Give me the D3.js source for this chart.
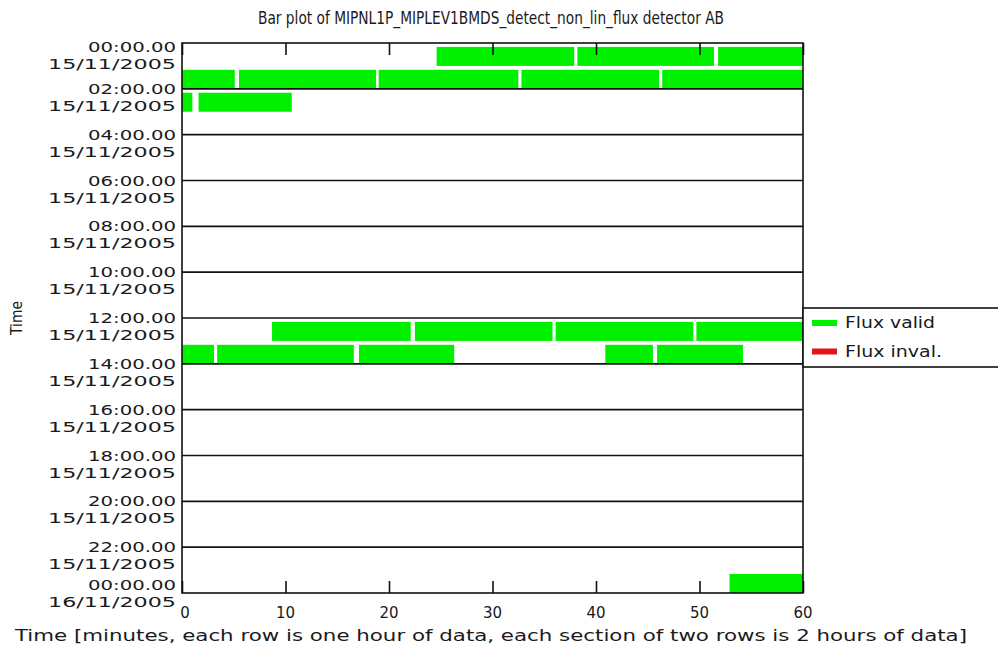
<!DOCTYPE html>
<html>
<head>
<meta charset="utf-8">
<script src="https://cdn.jsdelivr.net/npm/d3@7"></script>
<style>
  html, body { margin: 0; padding: 0; background: #fff; }
  svg { display: block; }
  text { font-family: "DejaVu Sans", "Liberation Sans", sans-serif; fill: #1a1a1a; }
</style>
</head>
<body>
<svg id="chart" width="998" height="659"></svg>
<script>
// ---------------- data ----------------
const titleText = "Bar plot of MIPNL1P_MIPLEV1BMDS_detect_non_lin_flux detector AB";
const xLabelText = "Time [minutes, each row is one hour of data, each section of two rows is 2 hours of data]";
const yLabelText = "Time";

// hour rows (0 = 00:00-01:00 on 15/11/2005 ... 23 = 23:00-24:00)
const segHour  = [0, 0, 0, 1, 1, 1, 1, 1, 2, 2, 12, 12, 12, 12, 13, 13, 13, 13, 13, 23];
const segStart = [24.6, 38.2, 51.8, 0, 5.5, 19.0, 32.8, 46.4, 0, 1.6, 8.7, 22.5, 36.1, 49.7, 0, 3.4, 17.1, 40.9, 45.9, 52.9];
const segEnd   = [37.9, 51.4, 60, 5.1, 18.75, 32.5, 46.1, 60, 1.0, 10.6, 22.1, 35.8, 49.4, 60, 3.1, 16.6, 26.3, 45.5, 54.2, 60];
const segStatus = ["valid","valid","valid","valid","valid","valid","valid","valid","valid","valid",
                   "valid","valid","valid","valid","valid","valid","valid","valid","valid","valid"];

const yTickHours = [0, 2, 4, 6, 8, 10, 12, 14, 16, 18, 20, 22, 24];
const yTickTimes = ["00:00.00","02:00.00","04:00.00","06:00.00","08:00.00","10:00.00","12:00.00",
                    "14:00.00","16:00.00","18:00.00","20:00.00","22:00.00","00:00.00"];
const yTickDates = ["15/11/2005","15/11/2005","15/11/2005","15/11/2005","15/11/2005","15/11/2005","15/11/2005",
                    "15/11/2005","15/11/2005","15/11/2005","15/11/2005","15/11/2005","16/11/2005"];
const xTicks = [0, 10, 20, 30, 40, 50, 60];

const legendLabels = ["Flux valid", "Flux inval."];
const legendKeys = ["valid", "invalid"];
const colors = { valid: "#00f000", invalid: "#e0141a" };

// ---------------- layout ----------------
const svg = d3.select("#chart");
const L = 182, R = 803, T = 43, B = 593;

const x = d3.scaleLinear().domain([0, 60]).range([L, R]);
const y = d3.scaleLinear().domain([0, 24]).range([T, B]);
const rowH = y(1) - y(0);
const barH = rowH * 0.83;

// bars
svg.append("g").selectAll("rect").data(segHour.map((h, i) => i)).join("rect")
  .attr("x", i => x(segStart[i]))
  .attr("width", i => x(segEnd[i]) - x(segStart[i]))
  .attr("y", i => y(segHour[i] + 1) - barH)
  .attr("height", barH)
  .attr("fill", i => colors[segStatus[i]]);

// section lines
svg.append("g").selectAll("line").data(yTickHours.slice(1, -1)).join("line")
  .attr("x1", L).attr("x2", R)
  .attr("y1", d => y(d)).attr("y2", d => y(d))
  .attr("stroke", "#111").attr("stroke-width", 1.6);

// x ticks (bottom & top, inward)
const xAxisB = d3.axisBottom(x).tickValues(xTicks).tickSize(-12).tickFormat("");
const gB = svg.append("g").attr("transform", `translate(0,${B})`).call(xAxisB);
const xAxisT = d3.axisTop(x).tickValues(xTicks).tickSize(-12).tickFormat("");
const gT = svg.append("g").attr("transform", `translate(0,${T})`).call(xAxisT);
[gB, gT].forEach(g => {
  g.select(".domain").remove();
  g.selectAll("line").attr("stroke", "#111").attr("stroke-width", 1.6);
});

// frame
svg.append("rect").attr("x", L).attr("y", T).attr("width", R - L).attr("height", B - T)
  .attr("fill", "none").attr("stroke", "#111").attr("stroke-width", 1.6);

// x tick labels
svg.append("g").selectAll("text").data(xTicks).join("text")
  .attr("x", d => x(d) + (d === 0 ? 3 : 0))
  .attr("y", 613)
  .attr("text-anchor", "middle")
  .attr("dominant-baseline", "central")
  .attr("font-size", 15)
  .text(d => d);

// y tick labels (two lines)
const yl = svg.append("g");
yTickHours.forEach((h, i) => {
  const c = Math.max(T + 4, Math.min(B - 8, y(h)));
  yl.append("text").attr("x", 176).attr("y", c)
    .attr("text-anchor", "end").attr("dominant-baseline", "central")
    .attr("font-size", 14).attr("textLength", 88).attr("lengthAdjust", "spacingAndGlyphs")
    .text(yTickTimes[i]);
  yl.append("text").attr("x", 176).attr("y", c + 17)
    .attr("text-anchor", "end").attr("dominant-baseline", "central")
    .attr("font-size", 14).attr("textLength", 128).attr("lengthAdjust", "spacingAndGlyphs")
    .text(yTickDates[i]);
});

// title
svg.append("text").attr("x", 491).attr("y", 17)
  .attr("text-anchor", "middle").attr("dominant-baseline", "central")
  .attr("font-size", 18).attr("textLength", 466).attr("lengthAdjust", "spacingAndGlyphs")
  .text(titleText);

// x label
svg.append("text").attr("x", 491).attr("y", 635)
  .attr("text-anchor", "middle").attr("dominant-baseline", "central")
  .attr("font-size", 16).attr("textLength", 952).attr("lengthAdjust", "spacingAndGlyphs")
  .text(xLabelText);

// y label
svg.append("text").attr("transform", `translate(16,318) rotate(-90)`)
  .attr("text-anchor", "middle").attr("dominant-baseline", "central")
  .attr("font-size", 16).attr("textLength", 34).attr("lengthAdjust", "spacingAndGlyphs")
  .text(yLabelText);

// legend
const lg = svg.append("g");
lg.append("rect").attr("x", R).attr("y", 308).attr("width", 200).attr("height", 59)
  .attr("fill", "#fff").attr("stroke", "#111").attr("stroke-width", 1.6);
legendKeys.forEach((k, i) => {
  const cy = 323 + i * 28.5;
  lg.append("rect").attr("x", 812).attr("y", cy - 3).attr("width", 25).attr("height", 6)
    .attr("fill", colors[k]);
  lg.append("text").attr("x", 845).attr("y", cy)
    .attr("dominant-baseline", "central").attr("font-size", 15)
    .attr("textLength", i === 0 ? 90 : 97).attr("lengthAdjust", "spacingAndGlyphs")
    .text(legendLabels[i]);
});
</script>
</body>
</html>
